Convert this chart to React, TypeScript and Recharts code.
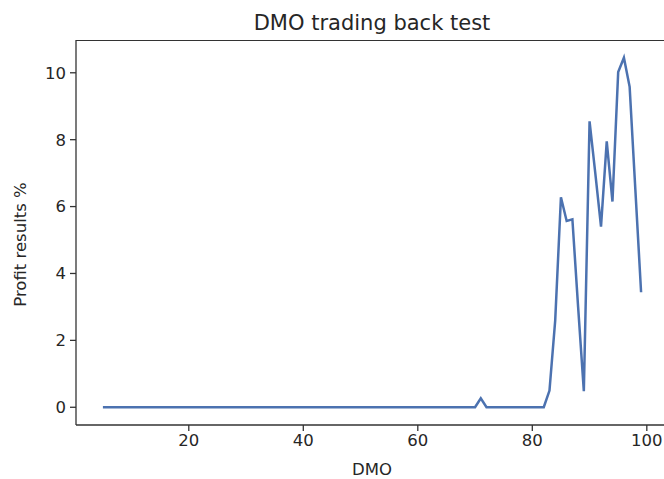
import { LineChart, Line, XAxis, YAxis, Label } from 'recharts';

const dmo = [
  5, 6, 7, 8, 9, 10, 11, 12, 13, 14, 15, 16, 17, 18, 19, 20, 21, 22, 23, 24,
  25, 26, 27, 28, 29, 30, 31, 32, 33, 34, 35, 36, 37, 38, 39, 40, 41, 42, 43, 44,
  45, 46, 47, 48, 49, 50, 51, 52, 53, 54, 55, 56, 57, 58, 59, 60, 61, 62, 63, 64,
  65, 66, 67, 68, 69, 70, 71, 72, 73, 74, 75, 76, 77, 78, 79, 80, 81, 82, 83, 84,
  85, 86, 87, 88, 89, 90, 91, 92, 93, 94, 95, 96, 97, 98, 99,
];

const profit = [
  0, 0, 0, 0, 0, 0, 0, 0, 0, 0, 0, 0, 0, 0, 0, 0, 0, 0, 0, 0,
  0, 0, 0, 0, 0, 0, 0, 0, 0, 0, 0, 0, 0, 0, 0, 0, 0, 0, 0, 0,
  0, 0, 0, 0, 0, 0, 0, 0, 0, 0, 0, 0, 0, 0, 0, 0, 0, 0, 0, 0,
  0, 0, 0, 0, 0, 0, 0.27, 0, 0, 0, 0, 0, 0, 0, 0, 0, 0, 0, 0.5, 2.6,
  6.28, 5.57, 5.62, 3.0, 0.48, 8.55, 7.0, 5.4, 7.95, 6.15, 10.02, 10.45, 9.58, 6.5, 3.44,
];

const xTicks = [20, 40, 60, 80, 100];
const yTicks = [0, 2, 4, 6, 8, 10];

const data = dmo.map((d, i) => ({ dmo: d, profit: profit[i] }));

const font = '"DejaVu Sans", sans-serif';
const tickStyle = { fill: '#262626', fontSize: 16.5, fontFamily: font };

export default function App() {
  return (
    <div style={{ position: 'absolute', left: 0, top: 0, width: 664, height: 479, overflow: 'hidden', background: '#fff' }}>
      <div
        style={{
          position: 'absolute',
          left: 76,
          width: 592,
          top: 10,
          textAlign: 'center',
          fontFamily: font,
          fontSize: 21,
          color: '#262626',
          lineHeight: '26px',
        }}
      >
        DMO trading back test
      </div>
      <LineChart width={700} height={479} data={data} margin={{ top: 40, right: 32, left: 0, bottom: 0 }}>
        <XAxis
          dataKey="dmo"
          type="number"
          domain={[0.3, 103.7]}
          allowDataOverflow
          ticks={xTicks}
          height={54}
          tickSize={6}
          tickMargin={3}
          stroke="#333"
          strokeWidth={1.3}
          tick={tickStyle}
        >
          <Label value="DMO" position="insideBottom" offset={4} style={{ fill: '#262626', fontSize: 16.5, fontFamily: font }} />
        </XAxis>
        <YAxis
          type="number"
          domain={[-0.53, 10.98]}
          allowDataOverflow
          ticks={yTicks}
          width={76}
          tickSize={6}
          tickMargin={4}
          stroke="#333"
          strokeWidth={1.3}
          tick={tickStyle}
        >
          <Label
            value="Profit results %"
            angle={-90}
            position="insideLeft"
            offset={20}
            viewBox={{ x: 0, y: 52, width: 76, height: 385 }}
            style={{ textAnchor: 'middle', fill: '#262626', fontSize: 16.5, fontFamily: font }}
          />
        </YAxis>
        <Line
          type="linear"
          dataKey="profit"
          stroke="#4c72b0"
          strokeWidth={2.5}
          dot={false}
          isAnimationActive={false}
        />
      </LineChart>
      <div style={{ position: 'absolute', left: 76, top: 40, width: 700, height: 0, borderTop: '1.3px solid #333' }} />
    </div>
  );
}
